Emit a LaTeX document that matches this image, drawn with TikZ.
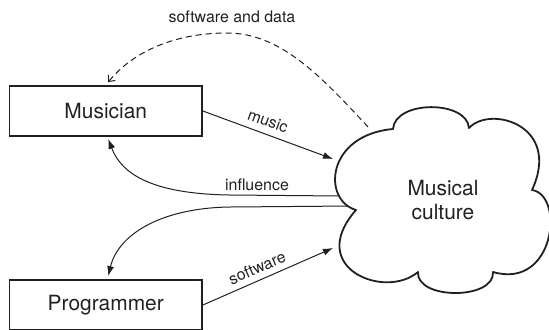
\documentclass[tikz,border=0pt]{standalone}
\usepackage{fontspec}
\setmainfont{TeX Gyre Heros}
\usetikzlibrary{arrows.meta,calc}
\definecolor{ink}{HTML}{231F20}
\begin{document}
\begin{tikzpicture}[x=1bp,y=-1bp,
  box/.style={draw=ink,line width=1.8bp,minimum width=192.5bp,minimum height=50bp,inner sep=0pt,font=\fontsize{21}{25}\selectfont,text=ink},
  big/.style={font=\fontsize{21}{25}\selectfont,text=ink,align=center,inner sep=0pt},
  lbl/.style={font=\fontsize{16}{19}\selectfont,text=ink,inner sep=0pt},
  flow/.style={draw=ink,line width=1bp,-{Latex[length=10bp,width=7bp]}},
  back/.style={draw=ink,line width=1bp,dash pattern=on 6bp off 4bp,-{Straight Barb[length=5bp,width=9bp]}},
  cloudline/.style={draw=ink,fill=white,line width=1.8bp,line join=round}
]
\useasboundingbox (0,0) rectangle (549,329);

\node[box] (mus) at (105.75,111) {Musician};
\node[box] (prog) at (105.75,305) {Programmer};

\coordinate (cMus) at (333,159);
\coordinate (cSw) at (333,248);
\coordinate (cInf1) at (342,196);
\coordinate (cInf2) at (352,206);
\coordinate (cData) at (368,127);

% connectors
\draw[flow] (mus.east) -- (cMus);
\draw[flow] (prog.east) -- (cSw);
\draw[flow] (cInf1) -- (230,195) .. controls (160,194) and (123,178) .. ($(mus.south)+(2.5,2)$);
\draw[flow] (cInf2) -- (230,207) .. controls (160,208) and (118,235) .. ($(prog.north)+(2.5,-3)$);
\draw[back] (cData) .. controls (320,75) and (280,33) .. (227,33)
  .. controls (170,33) and (130,55) .. ($(mus.north)+(2.5,-3)$);

% cloud
\path[cloudline] (356,210) .. controls (322,200) and (326,135) .. (393,129)
 .. controls (395,100) and (467,100) .. (469,128)
 .. controls (490,105) and (562,125) .. (532,190)
 .. controls (565,195) and (555,290) .. (493,272)
 .. controls (495,300) and (416,300) .. (418,272)
 .. controls (385,300) and (305,268) .. (356,210) -- cycle;
\node[big] (cult) at (443,200) {Musical\\culture};

% labels
\node[lbl] (lData) at (232,16.7) {software and data};
\node[lbl,rotate=-20] (lMusic) at (268,121) {music};
\node[lbl] (lInf) at (257,184.3) {influence};
\node[lbl,rotate=23] (lSw) at (257,268) {software};
\end{tikzpicture}
\end{document}
